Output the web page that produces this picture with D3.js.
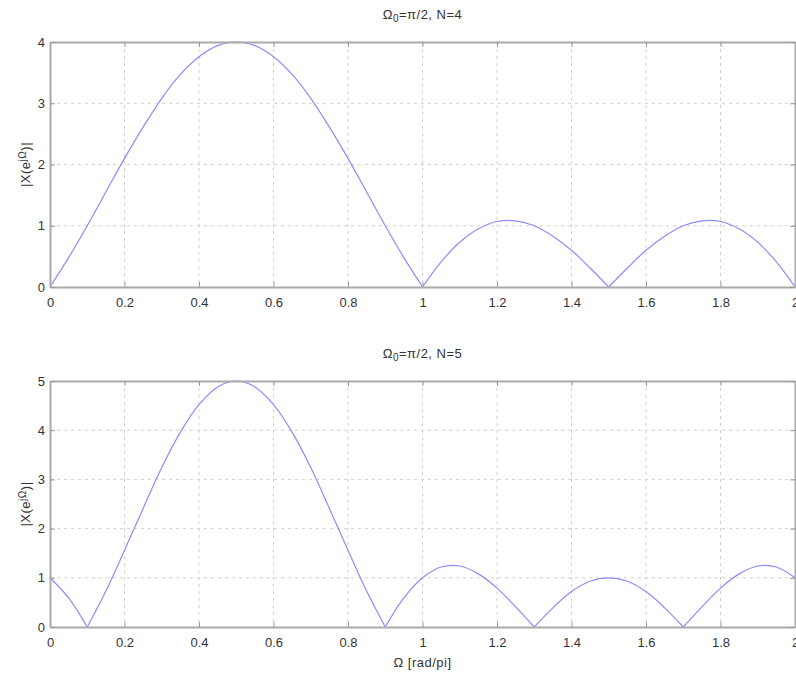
<!DOCTYPE html>
<html lang="en">
<head>
<meta charset="UTF-8">
<title>|X(e^jW)| for N=4 and N=5</title>
<script src="https://d3js.org/d3.v7.min.js"></script>
<style>
  body { margin: 0; background: #fff; }
  text { font-family: "Liberation Sans", Arial, sans-serif; fill: #333; }
</style>
</head>
<body>
<div id="chart"></div>
<script>
// Omega sample points (units of pi), step 0.05
const omega = d3.range(0, 41).map(i => +(i * 0.05).toFixed(2));

// magnitudes (N=4)
const magN4 = [
  0, 0.48, 1.0, 1.55, 2.1, 2.61, 3.08, 3.47, 3.76, 3.94,
  4.0, 3.94, 3.76, 3.47, 3.08, 2.61, 2.1, 1.55, 1.0, 0.48,
  0, 0.41, 0.73, 0.95, 1.07, 1.08, 1.0, 0.83, 0.6, 0.31,
  0, 0.31, 0.6, 0.83, 1.0, 1.08, 1.07, 0.95, 0.73, 0.41, 0
];

// magnitudes (N=5)
const magN5 = [
  1.0, 0.59, 0, 0.73, 1.56, 2.41, 3.24, 3.96, 4.52, 4.88,
  5.0, 4.88, 4.52, 3.96, 3.24, 2.41, 1.56, 0.73, 0, 0.59,
  1.0, 1.22, 1.24, 1.08, 0.79, 0.41, 0, 0.39, 0.72, 0.93,
  1.0, 0.93, 0.72, 0.39, 0, 0.41, 0.79, 1.08, 1.24, 1.22, 1.0
];

const xTicks = [0, 0.2, 0.4, 0.6, 0.8, 1, 1.2, 1.4, 1.6, 1.8, 2];
const yTicksN4 = [0, 1, 2, 3, 4];
const yTicksN5 = [0, 1, 2, 3, 4, 5];

const width = 796, height = 675;
const svg = d3.select("#chart").append("svg")
    .attr("width", width)
    .attr("height", height);

const left = 50, right = 795;

function drawPanel(cfg) {
    const x = d3.scaleLinear().domain([0, 2]).range([left, right]);
    const y = d3.scaleLinear().domain([0, cfg.ymax]).range([cfg.bottom, cfg.top]);
    const g = svg.append("g");

    // grid
    g.append("g").selectAll("line")
        .data(xTicks.slice(1, -1))
        .enter().append("line")
        .attr("x1", d => x(d)).attr("x2", d => x(d))
        .attr("y1", cfg.top).attr("y2", cfg.bottom)
        .attr("stroke", "#d0d0d0").attr("stroke-dasharray", "3,4");
    g.append("g").selectAll("line")
        .data(cfg.yTicks.slice(1, -1))
        .enter().append("line")
        .attr("y1", d => y(d)).attr("y2", d => y(d))
        .attr("x1", left).attr("x2", right)
        .attr("stroke", "#d0d0d0").attr("stroke-dasharray", "3,4");

    // curve, split into lobes at the interior zeros so the cusps stay sharp
    const pts = omega.map((w, i) => [w, cfg.values[i]]);
    const lobes = [];
    let cur = [];
    pts.forEach((p, i) => {
        cur.push(p);
        if (p[1] === 0 && i > 0 && i < pts.length - 1) {
            lobes.push(cur);
            cur = [p];
        }
    });
    lobes.push(cur);
    const line = d3.line()
        .x(d => x(d[0]))
        .y(d => y(d[1]))
        .curve(d3.curveCatmullRom.alpha(0.5));
    g.append("g").selectAll("path")
        .data(lobes)
        .enter().append("path")
        .attr("d", line)
        .attr("fill", "none")
        .attr("stroke", "#8c8cff")
        .attr("stroke-width", 1.2);

    // axes with inward ticks on all four sides
    const axisStyle = sel => {
        sel.select(".domain").attr("stroke", "#aaaaaa").attr("stroke-width", 2);
        sel.selectAll(".tick line").attr("stroke", "#999999");
        sel.selectAll(".tick text").style("font-size", "13px").attr("fill", "#333");
    };
    g.append("g")
        .attr("transform", `translate(0,${cfg.bottom})`)
        .call(d3.axisBottom(x).tickValues(xTicks).tickFormat(d3.format("")).tickSizeInner(-5).tickSizeOuter(0).tickPadding(11))
        .call(axisStyle);
    g.append("g")
        .attr("transform", `translate(0,${cfg.top})`)
        .call(d3.axisTop(x).tickValues(xTicks).tickFormat("").tickSizeInner(-5).tickSizeOuter(0))
        .call(axisStyle);
    g.append("g")
        .attr("transform", `translate(${left},0)`)
        .call(d3.axisLeft(y).tickValues(cfg.yTicks).tickFormat(d3.format("d")).tickSizeInner(-5).tickSizeOuter(0).tickPadding(5))
        .call(axisStyle);
    g.append("g")
        .attr("transform", `translate(${right},0)`)
        .call(d3.axisRight(y).tickValues(cfg.yTicks).tickFormat("").tickSizeInner(-5).tickSizeOuter(0))
        .call(axisStyle);

    // title
    const t = g.append("text")
        .attr("x", (left + right) / 2)
        .attr("y", cfg.top - 23)
        .attr("text-anchor", "middle")
        .style("font-size", "13px")
        .style("letter-spacing", "0.5px");
    t.append("tspan").text("\u03A9");
    t.append("tspan").attr("baseline-shift", "-30%").style("font-size", "10px").text("0");
    t.append("tspan").text("=\u03C0/2, N=" + cfg.n);

    // y label
    const yl = g.append("text")
        .attr("transform", `translate(30,${(cfg.top + cfg.bottom) / 2}) rotate(-90)`)
        .attr("text-anchor", "middle")
        .style("font-size", "13px")
        .style("letter-spacing", "0.5px");
    yl.append("tspan").text("|X(e");
    yl.append("tspan").attr("baseline-shift", "40%").style("font-size", "10px").text("j\u03A9");
    yl.append("tspan").text(")|");

    return x;
}

drawPanel({ top: 42, bottom: 287, ymax: 4, yTicks: yTicksN4, values: magN4, n: 4 });
drawPanel({ top: 381, bottom: 627, ymax: 5, yTicks: yTicksN5, values: magN5, n: 5 });

svg.append("text")
    .attr("x", (left + right) / 2)
    .attr("y", 667)
    .attr("text-anchor", "middle")
    .style("font-size", "13px")
    .style("letter-spacing", "0.5px")
    .text("\u03A9 [rad/pi]");
</script>
</body>
</html>
